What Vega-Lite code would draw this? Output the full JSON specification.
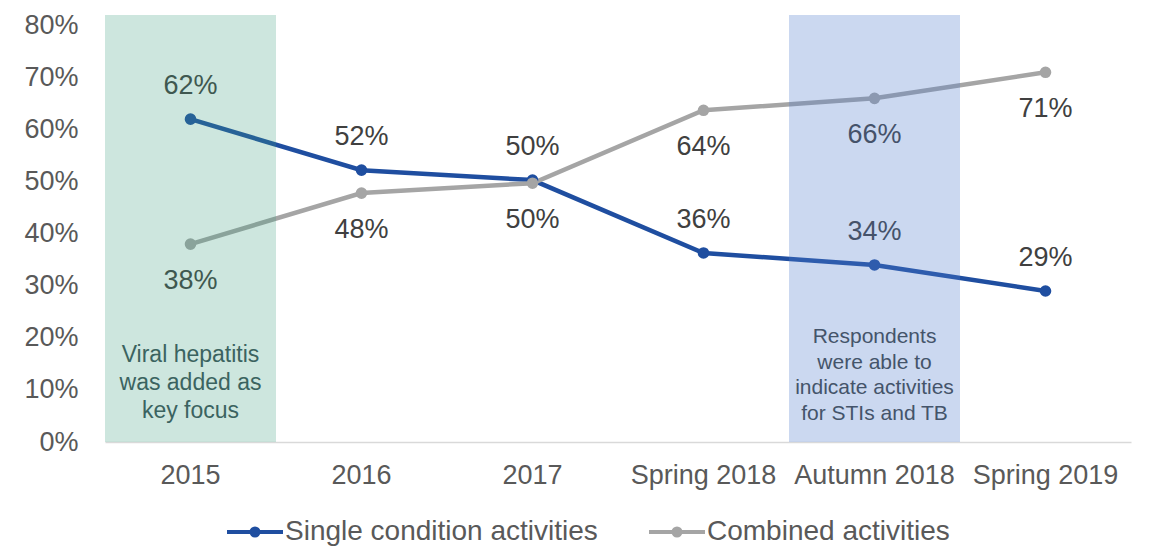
{
  "$schema": "https://vega.github.io/schema/vega-lite/v6.json",
  "width": 1026,
  "height": 427,
  "autosize": {"type": "none"},
  "padding": {"left": 105, "top": 15, "right": 22, "bottom": 113},
  "background": "white",
  "config": {
    "view": {"stroke": null},
    "font": "Liberation Sans",
    "text": {"font": "Liberation Sans"}
  },
  "datasets": {
    "series": [
      {"period": "2015", "series": "Single condition activities", "value": 0.62},
      {"period": "2016", "series": "Single condition activities", "value": 0.522},
      {"period": "2017", "series": "Single condition activities", "value": 0.503},
      {"period": "Spring 2018", "series": "Single condition activities", "value": 0.363},
      {"period": "Autumn 2018", "series": "Single condition activities", "value": 0.34},
      {"period": "Spring 2019", "series": "Single condition activities", "value": 0.29},
      {"period": "2015", "series": "Combined activities", "value": 0.38},
      {"period": "2016", "series": "Combined activities", "value": 0.478},
      {"period": "2017", "series": "Combined activities", "value": 0.497},
      {"period": "Spring 2018", "series": "Combined activities", "value": 0.637},
      {"period": "Autumn 2018", "series": "Combined activities", "value": 0.66},
      {"period": "Spring 2019", "series": "Combined activities", "value": 0.71}
    ],
    "bands": [
      {"period": "2015", "kind": "green", "lo": 0, "hi": 0.82},
      {"period": "Autumn 2018", "kind": "blue", "lo": 0, "hi": 0.82}
    ],
    "notes": [
      {"period": "2015", "kind": "green", "note": "Viral hepatitis\nwas added as\nkey focus", "pos": 0.167},
      {"period": "Autumn 2018", "kind": "blue", "note": "Respondents\nwere able to\nindicate activities\nfor STIs and TB", "pos": 0.2015}
    ]
  },
  "layer": [
    {
      "data": {"name": "series"},
      "mark": {"type": "line", "strokeWidth": 4.5, "point": {"filled": true, "size": 135}},
      "encoding": {
        "x": {
          "field": "period", "type": "nominal",
          "sort": ["2015", "2016", "2017", "Spring 2018", "Autumn 2018", "Spring 2019"],
          "scale": {"type": "band", "paddingInner": 0, "paddingOuter": 0},
          "axis": {"title": null, "ticks": false, "domainColor": "#D9D9D9", "domainWidth": 1.5, "labelFontSize": 27, "labelColor": "#595959", "labelPadding": 20, "labelAngle": 0, "labelFont": "Liberation Sans"}
        },
        "y": {
          "field": "value", "type": "quantitative",
          "scale": {"domain": [0, 0.82], "nice": false},
          "axis": {"title": null, "values": [0, 0.1, 0.2, 0.3, 0.4, 0.5, 0.6, 0.7, 0.8], "format": ".0%", "grid": false, "domain": false, "ticks": false, "labelFontSize": 27, "labelColor": "#595959", "labelPadding": 27, "labelFont": "Liberation Sans"}
        },
        "color": {
          "field": "series", "type": "nominal",
          "scale": {"domain": ["Single condition activities", "Combined activities"], "range": ["#1F4EA0", "#A5A5A5"]},
          "legend": {
            "title": null, "orient": "none", "direction": "horizontal",
            "legendX": 136, "legendY": 503, "padding": 0, "labelLimit": 0,
            "labelFontSize": 28, "labelColor": "#595959", "labelFont": "Liberation Sans",
            "symbolType": "M-2.8,0L2.8,0M-0.35,0A0.35,0.35 0 1,1 0.35,0A0.35,0.35 0 1,1 -0.35,0Z",
            "symbolSize": 400, "symbolStrokeWidth": 4, "labelOffset": 16, "columnPadding": 43,
            "encode": {"symbols": {"update": {"fill": {"scale": "color", "field": "value"}, "stroke": {"scale": "color", "field": "value"}, "opacity": {"value": 1}}}}
          }
        }
      }
    },
    {
      "data": {"name": "series"},
      "transform": [{"filter": "datum.series === 'Single condition activities'"}],
      "mark": {"type": "text", "font": "Liberation Sans", "fontSize": 27, "color": "#404040", "dy": -33, "baseline": "middle", "align": "center"},
      "encoding": {
        "x": {"field": "period", "type": "nominal", "sort": ["2015", "2016", "2017", "Spring 2018", "Autumn 2018", "Spring 2019"]},
        "y": {"field": "value", "type": "quantitative"},
        "text": {"field": "value", "type": "quantitative", "format": ".0%"}
      }
    },
    {
      "data": {"name": "series"},
      "transform": [{"filter": "datum.series === 'Combined activities'"}],
      "mark": {"type": "text", "font": "Liberation Sans", "fontSize": 27, "color": "#404040", "dy": 37, "baseline": "middle", "align": "center"},
      "encoding": {
        "x": {"field": "period", "type": "nominal", "sort": ["2015", "2016", "2017", "Spring 2018", "Autumn 2018", "Spring 2019"]},
        "y": {"field": "value", "type": "quantitative"},
        "text": {"field": "value", "type": "quantitative", "format": ".0%"}
      }
    },
    {
      "data": {"name": "bands"},
      "transform": [{"filter": "datum.kind === 'green'"}],
      "mark": {"type": "rect", "color": "#3F9F80", "opacity": 0.26},
      "encoding": {
        "x": {"field": "period", "type": "nominal", "sort": ["2015", "2016", "2017", "Spring 2018", "Autumn 2018", "Spring 2019"]},
        "y": {"field": "lo", "type": "quantitative"},
        "y2": {"field": "hi"}
      }
    },
    {
      "data": {"name": "bands"},
      "transform": [{"filter": "datum.kind === 'blue'"}],
      "mark": {"type": "rect", "color": "#527DCD", "opacity": 0.3},
      "encoding": {
        "x": {"field": "period", "type": "nominal", "sort": ["2015", "2016", "2017", "Spring 2018", "Autumn 2018", "Spring 2019"]},
        "y": {"field": "lo", "type": "quantitative"},
        "y2": {"field": "hi"}
      }
    },
    {
      "data": {"name": "notes"},
      "transform": [{"filter": "datum.kind === 'green'"}],
      "mark": {"type": "text", "font": "Liberation Sans", "fontSize": 23, "lineHeight": 28, "color": "#3B6360", "lineBreak": "\n", "baseline": "middle", "align": "center"},
      "encoding": {
        "x": {"field": "period", "type": "nominal", "sort": ["2015", "2016", "2017", "Spring 2018", "Autumn 2018", "Spring 2019"]},
        "y": {"field": "pos", "type": "quantitative"},
        "text": {"field": "note", "type": "nominal"}
      }
    },
    {
      "data": {"name": "notes"},
      "transform": [{"filter": "datum.kind === 'blue'"}],
      "mark": {"type": "text", "font": "Liberation Sans", "fontSize": 21, "lineHeight": 25.5, "color": "#44546A", "lineBreak": "\n", "baseline": "middle", "align": "center"},
      "encoding": {
        "x": {"field": "period", "type": "nominal", "sort": ["2015", "2016", "2017", "Spring 2018", "Autumn 2018", "Spring 2019"]},
        "y": {"field": "pos", "type": "quantitative"},
        "text": {"field": "note", "type": "nominal"}
      }
    }
  ]
}
